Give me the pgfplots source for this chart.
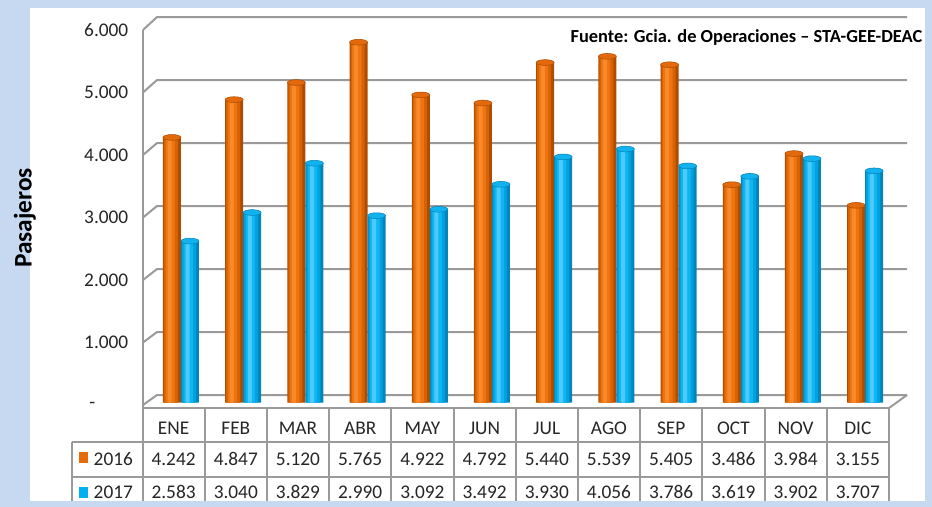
\documentclass[border=0pt]{standalone}
\usepackage{pgfplots}
\pgfplotsset{compat=1.18}
\usepackage{pgfplotstable}
\usepackage{fontspec}
\setmainfont{Carlito}

\definecolor{bgblue}{HTML}{C6D9F1}
\definecolor{gridg}{HTML}{9A9A9A}
\definecolor{or1}{HTML}{B04C00}
\definecolor{or2}{HTML}{D66204}
\definecolor{or3}{HTML}{EE7410}
\definecolor{or4}{HTML}{F88A2C}
\definecolor{orT}{HTML}{E26A0C}
\definecolor{orF}{HTML}{E46C0A}
\definecolor{bl1}{HTML}{0085BD}
\definecolor{bl2}{HTML}{00A2DE}
\definecolor{bl3}{HTML}{10B6F4}
\definecolor{bl4}{HTML}{4CCBFA}
\definecolor{blT}{HTML}{12B2EE}
\definecolor{blF}{HTML}{00B0F0}

\pgfplotstableread{
m a b
1 4242 2583
2 4847 3040
3 5120 3829
4 5765 2990
5 4922 3092
6 4792 3492
7 5440 3930
8 5539 4056
9 5405 3786
10 3486 3619
11 3984 3902
12 3155 3707
}\data

\begin{document}
\begin{tikzpicture}
\useasboundingbox (0pt,0pt) rectangle (699pt,-380.25pt);
\begin{scope}[x=0.75pt,y=-0.75pt]
\fill[bgblue] (0,0) rectangle (932,507);
\fill[white] (30,8) rectangle (925,501);
\foreach \v in {0,...,6} {
  \draw[gridg, line width=1.5pt] (143,{405-62.5*\v}) -- (157,{395-63*\v}) -- (907,{395-63*\v});
  \ifnum\v=0
    \node[anchor=east, font=\fontsize{14.5}{16}\selectfont, text=black!85] at (100,{405-62.5*\v}) {-};
  \else
    \node[anchor=east, font=\fontsize{14.5}{16}\selectfont, text=black!85] at (133,{405-62.5*\v}) {\v.000};
  \fi
}
\draw[gridg, line width=1.5pt] (143,30) -- (143,408);
\draw[gridg, line width=1.5pt] (889,408) -- (907,395);
\end{scope}

\begin{axis}[at={(112.4pt,-301.9pt)}, anchor=south west, scale only axis,
  width=559.8pt, height=281.25pt, xmin=0.5, xmax=12.5, ymin=0, ymax=6000,
  hide axis, clip=false]
% 2016 cylinders (layered shading)
\addplot[ybar, bar width=13.5pt, bar shift=-6.75pt, draw=none, fill=or1] table[x=m,y=a]{\data};
\addplot[ybar, bar width=10.5pt, bar shift=-7.5pt, draw=none, fill=or2] table[x=m,y=a]{\data};
\addplot[ybar, bar width=7pt, bar shift=-8pt, draw=none, fill=or3] table[x=m,y=a]{\data};
\addplot[ybar, bar width=3pt, bar shift=-8.5pt, draw=none, fill=or4] table[x=m,y=a]{\data};
% 2017 cylinders
\addplot[ybar, bar width=13.5pt, bar shift=6.75pt, draw=none, fill=bl1] table[x=m,y=b]{\data};
\addplot[ybar, bar width=10.5pt, bar shift=6pt, draw=none, fill=bl2] table[x=m,y=b]{\data};
\addplot[ybar, bar width=7pt, bar shift=5.5pt, draw=none, fill=bl3] table[x=m,y=b]{\data};
\addplot[ybar, bar width=3pt, bar shift=5pt, draw=none, fill=bl4] table[x=m,y=b]{\data};
% tops
\addplot[only marks, mark=*, mark size=6.75pt,
  mark options={xshift=-6.75pt, yscale=0.32, fill=orT, draw=or1, line width=0.4pt}] table[x=m,y=a]{\data};
\addplot[only marks, mark=*, mark size=6.75pt,
  mark options={xshift=6.75pt, yscale=0.32, fill=blT, draw=bl1, line width=0.4pt}] table[x=m,y=b]{\data};
\end{axis}

\begin{scope}[x=0.75pt,y=-0.75pt]
\draw[gridg, line width=1.5pt] (142.5,408) -- (889,408);
\foreach \k in {0,...,12} {
  \draw[gridg, line width=1.5pt] ({142.5+62.2*\k},408) -- ({142.5+62.2*\k},506);
}
\draw[gridg, line width=1.5pt] (72,442) -- (889,442);
\draw[gridg, line width=1.5pt] (72,477) -- (889,477);
\draw[gridg, line width=1.5pt] (72,442) -- (72,506);
\foreach \mo/\a/\b [count=\i from 0] in {ENE/4.242/2.583, FEB/4.847/3.040, MAR/5.120/3.829, ABR/5.765/2.990, MAY/4.922/3.092, JUN/4.792/3.492, JUL/5.440/3.930, AGO/5.539/4.056, SEP/5.405/3.786, OCT/3.486/3.619, NOV/3.984/3.902, DIC/3.155/3.707} {
  \node[font=\fontsize{14.5}{16}\selectfont, text=black!85] at ({173.6+62.2*\i},428) {\mo};
  \node[font=\fontsize{14.5}{16}\selectfont, text=black!85] at ({173.6+62.2*\i},459) {\a};
  \node[font=\fontsize{14.5}{16}\selectfont, text=black!85] at ({173.6+62.2*\i},492) {\b};
}
\fill[orF] (79,452) rectangle (88,463);
\node[anchor=west, font=\fontsize{14.5}{16}\selectfont, text=black!85] at (89,459) {2016};
\fill[blF] (79,487) rectangle (88,498);
\node[anchor=west, font=\fontsize{14.5}{16}\selectfont, text=black!85] at (89,492) {2017};
\fill[bgblue] (0,501) rectangle (932,507);
\node[rotate=90, font=\fontsize{19}{22}\selectfont\bfseries] at (25,218) {Pasajeros};
\node[anchor=east, font=\fontsize{13.8}{15}\selectfont\bfseries] at (927,37) {Fuente: Gcia. de Operaciones – STA-GEE-DEAC};
\end{scope}
\end{tikzpicture}
\end{document}
